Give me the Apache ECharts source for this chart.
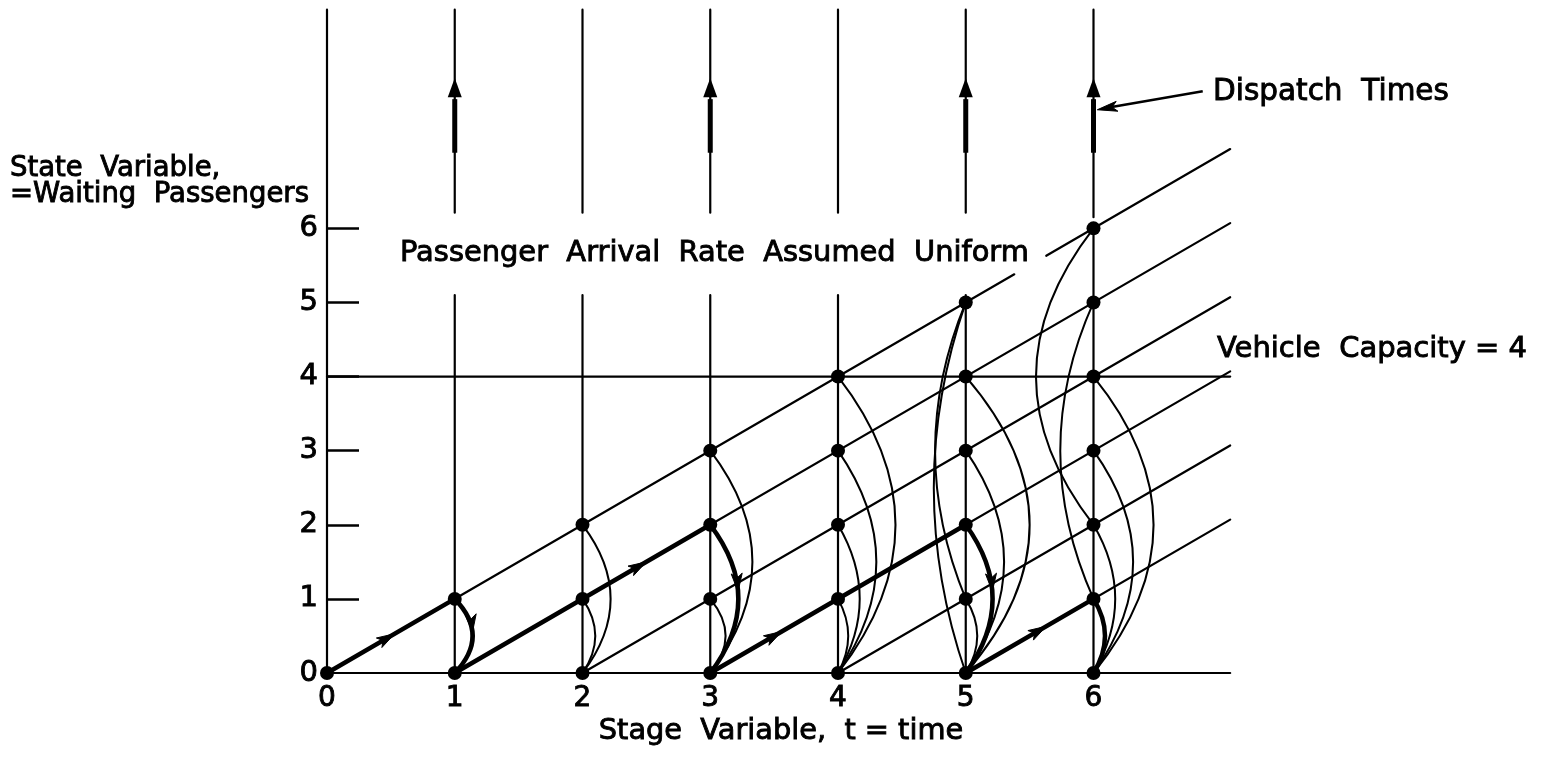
<!DOCTYPE html>
<html><head><meta charset="utf-8">
<script src="https://cdn.jsdelivr.net/npm/echarts@6/dist/echarts.min.js"></script>
<style>html,body{margin:0;padding:0;background:#fff}#c{width:1543px;height:759px}</style>
</head><body><div id="c"></div>
<script>
// ---------- data ----------
const stageTicks = [0, 1, 2, 3, 4, 5, 6];
const stateTicks = [0, 1, 2, 3, 4, 5, 6];
const stateTickMarks = [1, 2, 3, 4, 5, 6];
const nodes = [
  [0,0],
  [1,0],[1,1],
  [2,0],[2,1],[2,2],
  [3,0],[3,1],[3,2],[3,3],
  [4,0],[4,1],[4,2],[4,3],[4,4],
  [5,0],[5,1],[5,2],[5,3],[5,4],[5,5],
  [6,0],[6,1],[6,2],[6,3],[6,4],[6,5],[6,6]
];
const vehicleCapacity = 4;
const axisEnd = 7.07;          // where baseline, capacity line and diagonals stop
const stageLineTop = 8.95;     // top of the stage (vertical) lines
const textGap = [5.1, 6.21];   // vertical lines are broken around the caption
const topDiagonalGap = [5.38, 5.63];
const stage6Gap = [6, 6.15];
const diagonalStarts = [0, 1, 2, 3, 4, 5];
const dispatchTimes = [1, 3, 5, 6];
const dispatchArrow = [7.02, 7.77, 8.03]; // shaft start, head base, tip (state units)
// optimal (bold) path: [x1, y1, x2, y2, arrow position along segment]
const optimalPath = [
  [0, 0, 1, 1, 0.53],
  [1, 0, 3, 2, 0.75],
  [3, 0, 5, 2, 0.28],
  [5, 0, 6, 1, 0.63]
];
// transition arcs at a stage: [stage, fromState, toState, bulge (stage units, + right / - left)]
const thinArcs = [
  [2,2,0,0.22],[2,1,0,0.10],
  [3,3,0,0.33],[3,1,0,0.12],
  [4,4,0,0.45],[4,3,0,0.30],[4,2,0,0.17],[4,1,0,0.08],
  [5,4,0,0.50],[5,3,0,0.30],[5,1,0,0.09],[5,5,1,-0.24],[5,5,0,-0.25],
  [6,4,0,0.47],[6,3,0,0.31],[6,2,0,0.17],[6,6,2,-0.45],[6,5,1,-0.26]
];
// bold arcs of optimal path: [stage, fromState, toState, bulge, hasArrow]
const boldArcs = [
  [1,1,0,0.14,1],[3,2,0,0.22,1],[5,2,0,0.21,1],[6,1,0,0.09,0]
];
// "Dispatch Times" pointer: [fromX, fromY, tipX, tipY]
const pointer = [[6.855, 7.85, 6.03, 7.60]];

// ---------- build segments ----------
const thinSegments = [];
thinSegments.push([0, 0, axisEnd, 0]);
thinSegments.push([0, vehicleCapacity, axisEnd, vehicleCapacity]);
diagonalStarts.forEach(s => {
  if (s === 0) {
    thinSegments.push([0, 0, topDiagonalGap[0], topDiagonalGap[0]]);
    thinSegments.push([topDiagonalGap[1], topDiagonalGap[1], axisEnd, axisEnd]);
  } else {
    thinSegments.push([s, 0, axisEnd, axisEnd - s]);
  }
});
stageTicks.forEach(s => {
  if (s === 0) thinSegments.push([0, 0, 0, stageLineTop]);
  else if (s === 6) {
    thinSegments.push([6, 0, 6, stage6Gap[0]]);
    thinSegments.push([6, stage6Gap[1], 6, stageLineTop]);
  } else {
    thinSegments.push([s, 0, s, textGap[0]]);
    thinSegments.push([s, textGap[1], s, stageLineTop]);
  }
});

const FONT = 'DejaVu Sans';

function arrowHead(tip, dir, len, wid) {
  const m = Math.hypot(dir[0], dir[1]);
  const ux = dir[0] / m, uy = dir[1] / m;
  const bx = tip[0] - ux * len, by = tip[1] - uy * len;
  const nx = -uy, ny = ux;
  return {
    type: 'polygon',
    shape: { points: [tip, [bx + nx * wid / 2, by + ny * wid / 2], [tip[0] - ux * len * 0.75, tip[1] - uy * len * 0.75], [bx - nx * wid / 2, by - ny * wid / 2]] },
    style: { fill: '#000', stroke: '#000', lineWidth: 1 }
  };
}

function segRender(width) {
  return function (params, api) {
    const p1 = api.coord([api.value(0), api.value(1)]);
    const p2 = api.coord([api.value(2), api.value(3)]);
    return { type: 'line', shape: { x1: p1[0], y1: p1[1], x2: p2[0], y2: p2[1] },
      style: { stroke: '#000', lineWidth: width, lineCap: 'round' } };
  };
}

function pathRender(params, api) {
  const p1 = api.coord([api.value(0), api.value(1)]);
  const p2 = api.coord([api.value(2), api.value(3)]);
  const f = api.value(4);
  const tip = [p1[0] + (p2[0] - p1[0]) * f, p1[1] + (p2[1] - p1[1]) * f];
  return { type: 'group', children: [
    { type: 'line', shape: { x1: p1[0], y1: p1[1], x2: p2[0], y2: p2[1] },
      style: { stroke: '#000', lineWidth: 4.5, lineCap: 'round' } },
    arrowHead(tip, [p2[0] - p1[0], p2[1] - p1[1]], 18, 11)
  ] };
}

function arcRender(width, withArrow) {
  return function (params, api) {
    const s = api.value(0), a = api.value(1), b = api.value(2), k = api.value(3);
    const p1 = api.coord([s, a]), p2 = api.coord([s, b]);
    const c = api.coord([s + 2 * k, (a + b) / 2]);
    const children = [{ type: 'bezierCurve',
      shape: { x1: p1[0], y1: p1[1], x2: p2[0], y2: p2[1], cpx1: c[0], cpy1: c[1] },
      style: { stroke: '#000', fill: null, lineWidth: width } }];
    if (withArrow && api.value(4)) {
      const t = 0.45;
      const pt = [(1 - t) * (1 - t) * p1[0] + 2 * (1 - t) * t * c[0] + t * t * p2[0],
                  (1 - t) * (1 - t) * p1[1] + 2 * (1 - t) * t * c[1] + t * t * p2[1]];
      const d = [2 * (1 - t) * (c[0] - p1[0]) + 2 * t * (p2[0] - c[0]),
                 2 * (1 - t) * (c[1] - p1[1]) + 2 * t * (p2[1] - c[1])];
      children.push(arrowHead(pt, d, 18, 11));
    }
    return { type: 'group', children };
  };
}

function dispatchRender(params, api) {
  const t = api.value(0);
  const a = api.coord([t, dispatchArrow[0]]);
  const b = api.coord([t, dispatchArrow[1]]);
  const c = api.coord([t, dispatchArrow[2]]);
  return { type: 'group', children: [
    { type: 'line', shape: { x1: a[0], y1: a[1], x2: b[0], y2: b[1] + 2 },
      style: { stroke: '#000', lineWidth: 5 } },
    { type: 'polygon', shape: { points: [c, [b[0] - 7, b[1]], [b[0] + 7, b[1]]] },
      style: { fill: '#000' } }
  ] };
}

function pointerRender(params, api) {
  const p1 = api.coord([api.value(0), api.value(1)]);
  const p2 = api.coord([api.value(2), api.value(3)]);
  return { type: 'group', children: [
    { type: 'line', shape: { x1: p1[0], y1: p1[1], x2: p2[0] + 10, y2: p2[1] - 2 },
      style: { stroke: '#000', lineWidth: 2.5 } },
    arrowHead(p2, [p2[0] - p1[0], p2[1] - p1[1]], 20, 10)
  ] };
}

const chart = echarts.init(document.getElementById('c'), null, { renderer: 'canvas' });
const txt = (x, y, text, size, align) => ({
  type: 'text', x, y, silent: true,
  style: { text, fill: '#000', stroke: '#000', lineWidth: 0.9,
    font: size + 'px "' + FONT + '"', textAlign: align || 'left', textVerticalAlign: 'middle' }
});

chart.setOption({
  backgroundColor: '#fff',
  animation: false,
  grid: { left: 327, right: 194, top: 6, bottom: 86 },
  xAxis: {
    type: 'value', min: 0, max: 8,
    axisLine: { show: false }, axisTick: { show: false }, splitLine: { show: false },
    axisLabel: { customValues: stageTicks, formatter: v => String(v), color: '#000',
      textBorderColor: '#000', textBorderWidth: 0.9,
      fontSize: 28, fontFamily: FONT, margin: 12 }
  },
  yAxis: {
    type: 'value', min: 0, max: 9,
    axisLine: { show: false }, splitLine: { show: false },
    axisTick: { show: true, inside: true, length: 32, customValues: stateTickMarks,
      lineStyle: { color: '#000', width: 2.5 } },
    axisLabel: { customValues: stateTicks, formatter: v => String(v), color: '#000',
      textBorderColor: '#000', textBorderWidth: 0.9,
      fontSize: 29, fontFamily: FONT, margin: 9 }
  },
  graphic: [
    txt(10, 169, 'State  Variable,', 27.5),
    txt(10, 195, '=Waiting  Passengers', 27.5),
    txt(400, 253, 'Passenger  Arrival  Rate  Assumed  Uniform', 28.9),
    txt(1213, 92, 'Dispatch  Times', 29.5),
    txt(1217, 349, 'Vehicle  Capacity = 4', 29),
    txt(781, 732, 'Stage  Variable,  t = time', 28.8, 'center')
  ],
  series: [
    { type: 'custom', name: 'grid lines', data: thinSegments, encode: { x: [0, 2], y: [1, 3] },
      renderItem: segRender(2.2), silent: true },
    { type: 'custom', name: 'transitions', data: thinArcs, encode: { x: 0, y: [1, 2] },
      renderItem: arcRender(2, false), silent: true },
    { type: 'custom', name: 'optimal arcs', data: boldArcs, encode: { x: 0, y: [1, 2] },
      renderItem: arcRender(4.5, true), silent: true },
    { type: 'custom', name: 'optimal path', data: optimalPath, encode: { x: [0, 2], y: [1, 3] },
      renderItem: pathRender, silent: true },
    { type: 'custom', name: 'dispatch', data: dispatchTimes.map(t => [t]), encode: { x: 0 },
      renderItem: dispatchRender, silent: true },
    { type: 'custom', name: 'pointer', data: pointer, encode: { x: [0, 2], y: [1, 3] },
      renderItem: pointerRender, silent: true },
    { type: 'scatter', name: 'states', data: nodes, symbol: 'circle', symbolSize: 14,
      itemStyle: { color: '#000', opacity: 1 }, silent: true, z: 5 }
  ]
});
</script></body></html>
